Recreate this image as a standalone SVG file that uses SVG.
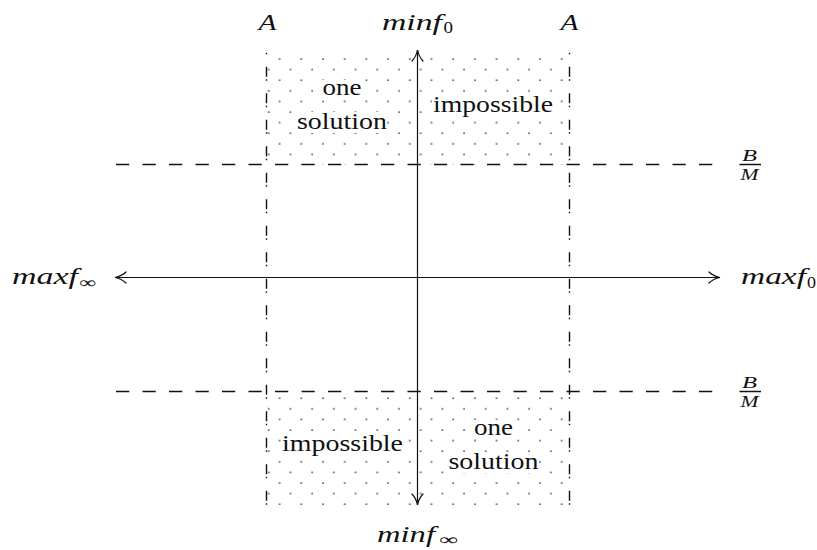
<svg xmlns="http://www.w3.org/2000/svg" width="817" height="550" viewBox="0 0 817 550">
  <style>
    text { font-family: 'Liberation Serif', 'Times New Roman', serif; fill: #111; }
    .t { font-size: 23px; }
    .m { font-size: 23px; font-style: italic; }
    .s { font-size: 16px; }
    .f { font-size: 17px; font-style: italic; }
    .axis { stroke: #111; stroke-width: 1.2; fill: none; }
    .dash { stroke: #111; stroke-width: 1.3; fill: none; stroke-dasharray: 13.25 13.25; }
    .dashdot { stroke: #111; stroke-width: 1.4; fill: none; stroke-dasharray: 10 2.5 1.5 12.5; stroke-dashoffset: 9.8; }
    .bar { stroke: #111; stroke-width: 1.5; }
    .bg { fill: #fff; }
  </style>
  <defs>
    <pattern id="dots" patternUnits="userSpaceOnUse" x="535" y="393.3" width="21.7" height="21.2">
      <circle cx="5" cy="5" r="0.8" fill="#222"/>
      <circle cx="15.85" cy="15.6" r="0.8" fill="#222"/>
    </pattern>
    <marker id="to" markerUnits="userSpaceOnUse" viewBox="-13 -7 15 14" refX="0" refY="0" markerWidth="15" markerHeight="14" orient="auto-start-reverse">
      <path d="M -11,-5.5 C -8,-2.6 -3.5,-0.7 0,0 C -3.5,0.7 -8,2.6 -11,5.5" fill="none" stroke="#111" stroke-width="1.2" stroke-linecap="round"/>
    </marker>
  </defs>

  <g id="regions">
    <rect x="266.5" y="50" width="303" height="114.5" fill="url(#dots)"/>
    <rect x="266.5" y="391.5" width="303" height="113.5" fill="url(#dots)"/>
  </g>

  <g id="connectors">
    <line class="dash" x1="116" y1="164.5" x2="720" y2="164.5"/>
    <line class="dash" x1="116" y1="391.5" x2="720" y2="391.5"/>
    <line class="dashdot" x1="266.5" y1="50" x2="266.5" y2="505"/>
    <line class="dashdot" x1="569.5" y1="50" x2="569.5" y2="505"/>
    <line class="axis" x1="115" y1="277.5" x2="720" y2="277.5" marker-start="url(#to)" marker-end="url(#to)"/>
    <line class="axis" x1="417.5" y1="505" x2="417.5" y2="50" marker-start="url(#to)" marker-end="url(#to)"/>
  </g>

  <g id="label-A-left"><text class="m" x="258.5" y="30" textLength="18" lengthAdjust="spacingAndGlyphs">A</text></g>
  <g id="label-A-right"><text class="m" x="560.5" y="30" textLength="18" lengthAdjust="spacingAndGlyphs">A</text></g>
  <g id="label-minf0">
    <text class="m" x="382" y="29.5" textLength="60" lengthAdjust="spacingAndGlyphs">minf</text>
    <text class="s" x="443.5" y="33" textLength="9.5" lengthAdjust="spacingAndGlyphs">0</text>
  </g>
  <g id="label-minfinf">
    <text class="m" x="377" y="541.5" textLength="58" lengthAdjust="spacingAndGlyphs">minf</text>
    <text class="s" x="439.5" y="545" textLength="19" lengthAdjust="spacingAndGlyphs">∞</text>
  </g>
  <g id="label-maxfinf">
    <text class="m" x="12" y="284" textLength="66" lengthAdjust="spacingAndGlyphs">maxf</text>
    <text class="s" x="79.5" y="287.5" textLength="17" lengthAdjust="spacingAndGlyphs">∞</text>
  </g>
  <g id="label-maxf0">
    <text class="m" x="741" y="284" textLength="65" lengthAdjust="spacingAndGlyphs">maxf</text>
    <text class="s" x="807" y="287.5" textLength="9" lengthAdjust="spacingAndGlyphs">0</text>
  </g>
  <g id="label-BM-top">
    <text class="f" x="742" y="161" textLength="15" lengthAdjust="spacingAndGlyphs">B</text>
    <line class="bar" x1="739.5" y1="164.5" x2="761" y2="164.5"/>
    <text class="f" x="740.5" y="180" textLength="18" lengthAdjust="spacingAndGlyphs">M</text>
  </g>
  <g id="label-BM-bottom">
    <text class="f" x="742" y="388" textLength="15" lengthAdjust="spacingAndGlyphs">B</text>
    <line class="bar" x1="739.5" y1="391.5" x2="761" y2="391.5"/>
    <text class="f" x="740.5" y="407" textLength="18" lengthAdjust="spacingAndGlyphs">M</text>
  </g>

  <g id="top-left-one-solution">
    <rect class="bg" x="322" y="80" width="40" height="17"/>
    <rect class="bg" x="296" y="112" width="91" height="21"/>
    <text class="t" x="322.5" y="95" textLength="39" lengthAdjust="spacingAndGlyphs">one</text>
    <text class="t" x="297" y="128.5" textLength="90" lengthAdjust="spacingAndGlyphs">solution</text>
  </g>
  <g id="top-right-impossible">
    <rect class="bg" x="432" y="95" width="122" height="21"/>
    <text class="t" x="433" y="111.5" textLength="120" lengthAdjust="spacingAndGlyphs">impossible</text>
  </g>
  <g id="bottom-left-impossible">
    <rect class="bg" x="281" y="434" width="123" height="21"/>
    <text class="t" x="282" y="450.5" textLength="121" lengthAdjust="spacingAndGlyphs">impossible</text>
  </g>
  <g id="bottom-right-one-solution">
    <rect class="bg" x="473.5" y="420" width="40" height="17"/>
    <rect class="bg" x="447.5" y="452" width="91" height="21"/>
    <text class="t" x="474" y="435" textLength="39" lengthAdjust="spacingAndGlyphs">one</text>
    <text class="t" x="448.5" y="468.5" textLength="90" lengthAdjust="spacingAndGlyphs">solution</text>
  </g>
</svg>
